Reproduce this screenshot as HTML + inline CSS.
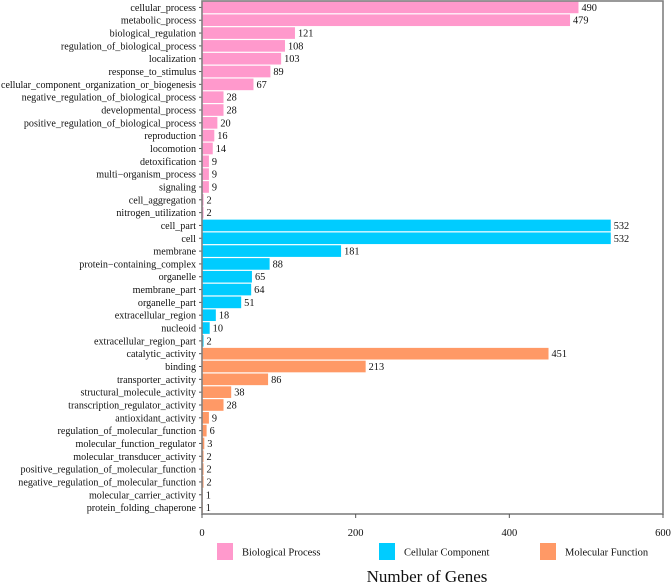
<!DOCTYPE html>
<html><head><meta charset="utf-8">
<style>
body{margin:0;background:#fff;width:672px;height:583px;overflow:hidden}
svg{display:block}
svg text{font-family:"Liberation Serif","Times New Roman",serif}
</style></head><body>
<svg id="chart" width="672" height="583" font-family="Liberation Serif, serif"></svg>
<script>
const categories=["cellular_process","metabolic_process","biological_regulation","regulation_of_biological_process","localization","response_to_stimulus","cellular_component_organization_or_biogenesis","negative_regulation_of_biological_process","developmental_process","positive_regulation_of_biological_process","reproduction","locomotion","detoxification","multi\u2212organism_process","signaling","cell_aggregation","nitrogen_utilization","cell_part","cell","membrane","protein\u2212containing_complex","organelle","membrane_part","organelle_part","extracellular_region","nucleoid","extracellular_region_part","catalytic_activity","binding","transporter_activity","structural_molecule_activity","transcription_regulator_activity","antioxidant_activity","regulation_of_molecular_function","molecular_function_regulator","molecular_transducer_activity","positive_regulation_of_molecular_function","negative_regulation_of_molecular_function","molecular_carrier_activity","protein_folding_chaperone"];
const values=[490,479,121,108,103,89,67,28,28,20,16,14,9,9,9,2,2,532,532,181,88,65,64,51,18,10,2,451,213,86,38,28,9,6,3,2,2,2,1,1];
const groups=[0,0,0,0,0,0,0,0,0,0,0,0,0,0,0,0,0,1,1,1,1,1,1,1,1,1,1,2,2,2,2,2,2,2,2,2,2,2,2,2];
const groupNames=["Biological Process","Cellular Component","Molecular Function"];
const xTicks=[0,200,400,600];
const colors=["#ff99cc","#00ccff","#ff9966"];
const NS="http://www.w3.org/2000/svg";
const svg=document.getElementById('chart');
const L=202,R=663,T=1,B=514;
const xs=v=>L+v/600*(R-L);
const band=(B-T)/categories.length;
const ys=i=>T+i*band;
const FF='Liberation Serif, Times New Roman, serif';
function mk(tag,attrs,parent){const e=document.createElementNS(NS,tag);for(const k in attrs)e.setAttribute(k,attrs[k]);if(tag==='text')e.setAttribute('font-family',FF);(parent||svg).appendChild(e);return e;}
categories.forEach((c,i)=>{
  const y=ys(i);
  const bar=mk('rect',{x:L,y:y+0.6,width:xs(values[i])-L,height:band-1.2,fill:colors[groups[i]]});
  
  
  const lab=mk('text',{x:L-6,y:y+band/2+3.5,'text-anchor':'end','font-size':'10.1',fill:'#111'});
  lab.textContent=c;
  
  
  const w=lab.getComputedTextLength();
  if(w>L-7){lab.setAttribute('textLength',L-7);lab.setAttribute('lengthAdjust','spacingAndGlyphs');}
  mk('line',{x1:L-3,x2:L,y1:y+band/2,y2:y+band/2,stroke:'#555','stroke-width':1});
  const vl=mk('text',{x:xs(values[i])+3,y:y+band/2+3.5,'font-size':'10.3','fill':'#111'});
  vl.textContent=values[i];
  
  
});
const frame=mk('rect',{x:L,y:T,width:R-L,height:B-T,fill:'none',stroke:'#808080','stroke-width':1.6});


xTicks.forEach(t=>{
  mk('line',{x1:xs(t),x2:xs(t),y1:B,y2:B+4,stroke:'#555','stroke-width':1});
  const tl=mk('text',{x:xs(t),y:536,'text-anchor':'middle','font-size':'10.5',fill:'#111'});
  tl.textContent=t;
  
  
});
const legX=[217,379,540];
groupNames.forEach((g,i)=>{
  const sw=mk('rect',{x:legX[i],y:543,width:16,height:17,fill:colors[i]});
  
  
  const lt=mk('text',{x:legX[i]+25,y:555.5,'font-size':'10.5',fill:'#111'});
  lt.textContent=g;
  
  
});
const at=mk('text',{x:427,y:582,'text-anchor':'middle','font-size':'17',fill:'#111'});
at.textContent='Number of Genes';


</script>
</body></html>
